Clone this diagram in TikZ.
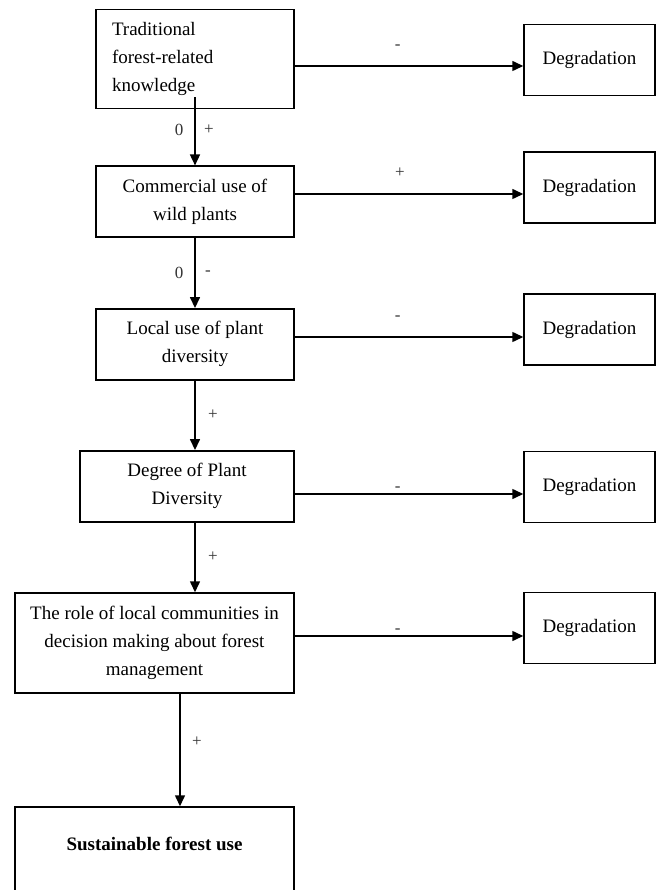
\documentclass[tikz,border=0pt]{standalone}
\usepackage{fontspec}
\setmainfont{Liberation Serif}
\usetikzlibrary{arrows.meta}

\tikzset{
  box/.style={draw, line width=1.5pt, minimum height=71pt, inner sep=0pt, align=center,
    font=\fontsize{19}{28}\selectfont},
  degbox/.style={box, minimum width=131pt},
  link/.style={line width=1.5pt, -{Triangle[length=11pt,width=10pt]}},
  sign/.style={font=\fontsize{17}{17}\selectfont, text=black!80, inner sep=0pt},
}

\begin{document}
\begin{tikzpicture}[x=1pt,y=-1pt]
    \useasboundingbox (0,0) rectangle (657,890);
    \clip (0,0) rectangle (657,890);
    % main chain
    \node[box, minimum width=198pt, minimum height=99pt, align=left, text width=166pt] (tk) at (195,59) {Traditional\\ forest-related\\ knowledge};
    \node[box, minimum width=198pt] (cu) at (195,201.7) {Commercial use of\\ wild plants};
    \node[box, minimum width=198pt] (lu) at (195,344.3) {Local use of plant\\ diversity};
    \node[box, minimum width=214pt] (dp) at (187,486.3) {Degree of Plant\\ Diversity};
    \node[box, minimum width=279pt, minimum height=100pt] (rc) at (154.5,643) {The role of local communities in\\ decision making about forest\\ management};
    \node[box, minimum width=279pt, minimum height=110pt, text depth=37pt, font=\fontsize{19}{28}\selectfont\bfseries] (sf) at (154.5,862) {Sustainable forest use};
    % degradation column
    \node[degbox] (dg1) at (589.5,60) {Degradation};
    \node[degbox] (dg2) at (589.5,187.5) {Degradation};
    \node[degbox] (dg3) at (589.5,329.5) {Degradation};
    \node[degbox] (dg4) at (589.5,487) {Degradation};
    \node[degbox] (dg5) at (589.5,628) {Degradation};
    % vertical links
    \draw[link] ([yshift=12pt]tk.south) -- node[sign, pos=.48, xshift=-16pt] (v1a) {0} node[sign, pos=.48, xshift=14pt] (v1b) {+} (cu.north);
    \draw[link] (cu.south) -- node[sign, pos=.5, xshift=-16pt] (v2a) {0} node[sign, pos=.5, xshift=13pt] (v2b) {-} (lu.north);
    \draw[link] (lu.south) -- node[sign, pos=.49, xshift=18pt] (v3) {+} (lu.south |- dp.north);
    \draw[link] (lu.south |- dp.south) -- node[sign, pos=.49, xshift=18pt] (v4) {+} (lu.south |- rc.north);
    \draw[link] ([xshift=25.5pt]rc.south) -- node[sign, pos=.43, xshift=17pt] (v5) {+} ([xshift=25.5pt]sf.north);
    % horizontal links
    \draw[link] (tk.east |- 0,66) -- node[sign, pos=.45, yshift=19pt] (h1) {-} (dg1.west |- 0,66);
    \draw[link] (cu.east |- 0,194) -- node[sign, pos=.46, yshift=21pt] (h2) {+} (dg2.west |- 0,194);
    \draw[link] (lu.east |- 0,337) -- node[sign, pos=.45, yshift=19pt] (h3) {-} (dg3.west |- 0,337);
    \draw[link] (dp.east |- 0,494) -- node[sign, pos=.45, yshift=5pt] (h4) {-} (dg4.west |- 0,494);
    \draw[link] (rc.east |- 0,636) -- node[sign, pos=.45, yshift=5pt] (h5) {-} (dg5.west |- 0,636);
\end{tikzpicture}
\end{document}
